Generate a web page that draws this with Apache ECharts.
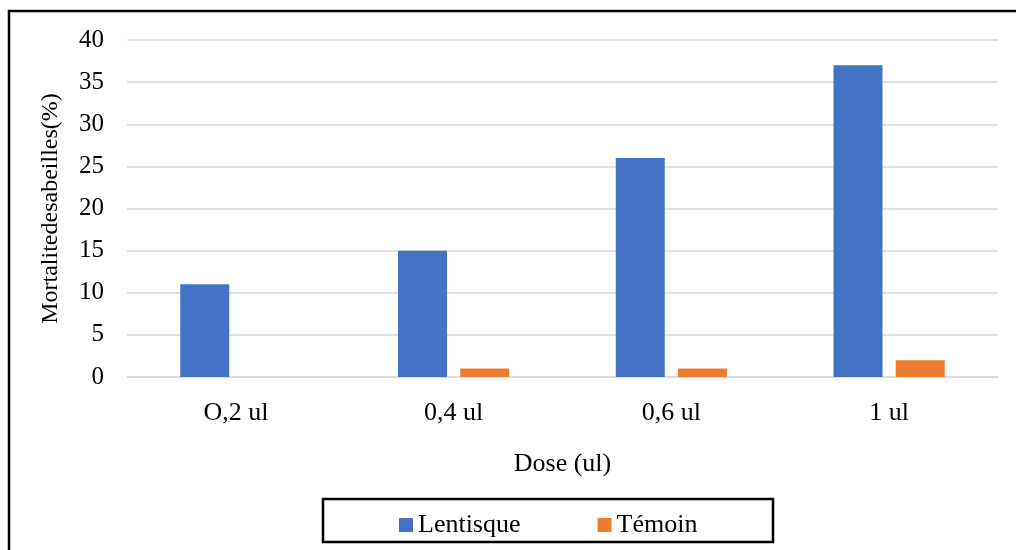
<!DOCTYPE html>
<html>
<head>
<meta charset="utf-8">
<script src="https://cdn.jsdelivr.net/npm/echarts@6/dist/echarts.min.js"></script>
<style>
  html, body { margin: 0; padding: 0; background: #fff; }
  #chart { width: 1016px; height: 550px; }
</style>
</head>
<body>
<div id="chart"></div>
<script>
var doses = ['O,2 ul', '0,4 ul', '0,6 ul', '1 ul']
var lentisque = [11, 15, 26, 37]
var temoin = [0, 1, 1, 2]

var font = 'Liberation Serif'
var chart = echarts.init(document.getElementById('chart'))

var option = {
  backgroundColor: '#fff',
  animation: false,
  textStyle: { fontFamily: font },
  grid: { left: 127, right: 18, top: 40, bottom: 173 },
  legend: {
    data: ['Lentisque', 'Témoin'],
    left: 394,
    top: 507,
    itemWidth: 14,
    itemHeight: 14,
    itemGap: 77,
    icon: 'rect',
    textStyle: { fontFamily: font, fontSize: 26, color: '#000' }
  },
  xAxis: {
    type: 'category',
    data: doses,
    name: 'Dose (ul)',
    nameLocation: 'middle',
    nameGap: 74,
    nameTextStyle: { fontFamily: font, fontSize: 26, color: '#000' },
    axisLine: { lineStyle: { color: '#d9d9d9', width: 1.5 } },
    axisTick: { show: false },
    axisLabel: { fontFamily: font, fontSize: 26, color: '#000', margin: 23 }
  },
  yAxis: {
    type: 'value',
    min: 0,
    max: 40,
    interval: 5,
    name: 'Mortalitedesabeilles(%)',
    nameLocation: 'middle',
    nameGap: 64,
    nameTextStyle: { fontFamily: font, fontSize: 24, color: '#000' },
    axisLine: { show: false },
    axisTick: { show: false },
    splitLine: { lineStyle: { color: '#d9d9d9', width: 1.5 } },
    axisLabel: { fontFamily: font, fontSize: 25, color: '#000', margin: 23 }
  },
  series: [
    {
      name: 'Lentisque',
      type: 'bar',
      data: lentisque,
      barWidth: 49,
      barGap: '27%',
      itemStyle: { color: '#4472C4' }
    },
    {
      name: 'Témoin',
      type: 'bar',
      data: temoin,
      barWidth: 49,
      itemStyle: { color: '#ED7D31' }
    }
  ],
  graphic: [
    {
      type: 'rect',
      shape: { x: 9, y: 11, width: 1020, height: 560 },
      style: { fill: 'none', stroke: '#000', lineWidth: 2.5 },
      silent: true
    },
    {
      type: 'rect',
      shape: { x: 323, y: 499, width: 450, height: 43 },
      style: { fill: 'none', stroke: '#000', lineWidth: 2.5 },
      silent: true
    }
  ]
}

chart.setOption(option)
</script>
</body>
</html>
